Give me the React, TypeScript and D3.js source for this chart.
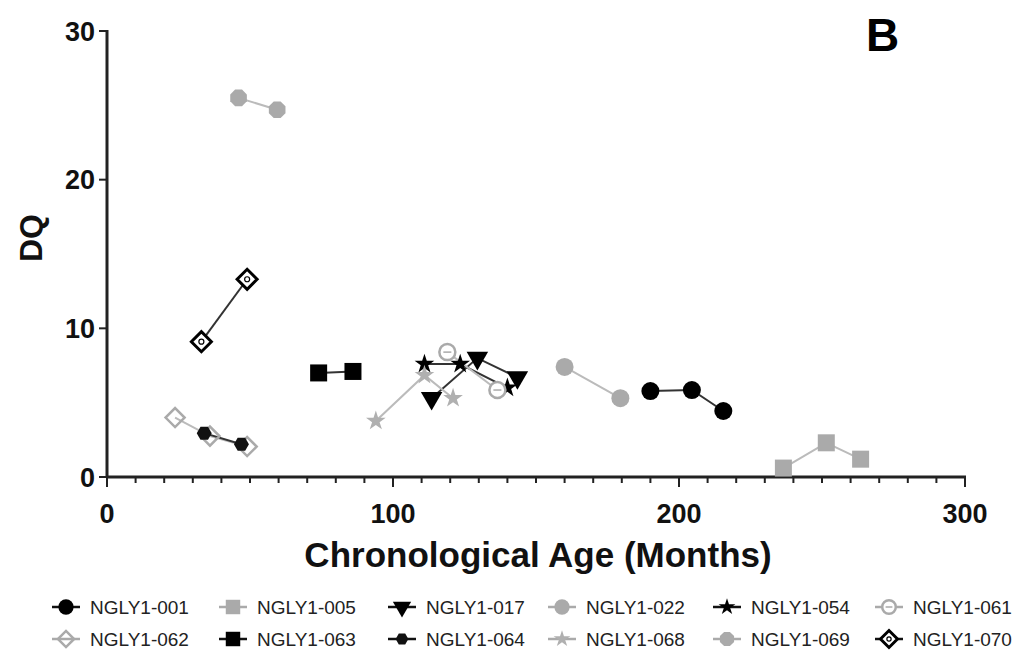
import React from "react";
import * as d3 from "d3";

const patients = ["NGLY1-001","NGLY1-005","NGLY1-017","NGLY1-022","NGLY1-054","NGLY1-061","NGLY1-062","NGLY1-063","NGLY1-064","NGLY1-068","NGLY1-069","NGLY1-070"];
const ages: number[][] = [
  [190, 204.5, 215.5],
  [236.5, 251.5, 263.5],
  [113.5, 129.5, 143.5],
  [160, 179.5],
  [111, 123.5, 140],
  [119, 136.5],
  [23.8, 36, 49],
  [74, 86],
  [34, 47],
  [94, 111, 121],
  [46, 59.5],
  [33, 49],
];
const dqs: number[][] = [
  [5.78, 5.85, 4.44],
  [0.6, 2.3, 1.2],
  [5.3, 8.0, 6.7],
  [7.4, 5.3],
  [7.6, 7.6, 6.0],
  [8.4, 5.85],
  [4.0, 2.75, 2.05],
  [7.0, 7.1],
  [2.95, 2.2],
  [3.77, 6.85, 5.3],
  [25.5, 24.7],
  [9.1, 13.3],
];
const shapes = ["circle","square","triDown","circle","star","openCircle","openDiamond","square","hexagon","star","octagon","diamondBlack"];
const colors = ["#000","#aaa","#000","#aaa","#000","#aaa","#aaa","#000","#111","#b0b0b0","#aaa","#000"];
const xTicks = [0, 100, 200, 300];
const yTicks = [0, 10, 20, 30];

function polygon(n: number, r: number, rot: number) {
  const pts = d3.range(n).map(i => {
    const a = rot + (i * 2 * Math.PI) / n;
    return [r * Math.cos(a), r * Math.sin(a)];
  });
  return "M" + pts.map(p => p.join(",")).join("L") + "Z";
}

function Marker({ shape, color, x, y, s = 1 }: { shape: string; color: string; x: number; y: number; s?: number }) {
  const t = `translate(${x},${y})`;
  switch (shape) {
    case "circle":
      return <circle cx={x} cy={y} r={9 * s} fill={color} />;
    case "openCircle":
      return <g><circle cx={x} cy={y} r={8 * s} fill="#fff" stroke={color} strokeWidth={2.5} /><line x1={x - 4 * s} x2={x + 4 * s} y1={y} y2={y} stroke={color} strokeWidth={1.5} /></g>;
    case "square":
      return <rect x={x - 8.5 * s} y={y - 8.5 * s} width={17 * s} height={17 * s} fill={color} />;
    case "triDown":
      return <path transform={`${t} rotate(180)`} d={d3.symbol().type(d3.symbolTriangle).size(200 * s * s)()!} fill={color} />;
    case "star":
      return <path transform={t} d={d3.symbol().type(d3.symbolStar).size(120 * s * s)()!} fill={color} />;
    case "openDiamond":
      return <path transform={t} d={polygon(4, 9.5 * s, 0)} fill="none" stroke={color} strokeWidth={2.5} />;
    case "hexagon":
      return <path transform={t} d={polygon(6, 7.5 * s, 0)} fill={color} />;
    case "octagon":
      return <path transform={t} d={polygon(8, 9 * s, Math.PI / 8)} fill={color} />;
    case "diamondBlack":
      return <g><path transform={t} d={polygon(4, 10 * s, 0)} fill="#fff" stroke={color} strokeWidth={3} /><circle cx={x} cy={y} r={2.5 * s} fill="none" stroke={color} strokeWidth={1.2} /></g>;
  }
  return null;
}

export default function App() {
  const W = 1024, H = 651;
  const x = d3.scaleLinear().domain([0, 300]).range([107, 965]);
  const y = d3.scaleLinear().domain([0, 30]).range([477, 31]);
  const line = d3.line<[number, number]>().x(d => x(d[0])).y(d => y(d[1]));
  const minor = d3.range(0, 301, 10);
  const legendX = [66, 233, 402, 562, 727, 889];
  const legendY = [607, 639];
  const font = "'Liberation Sans', Arial, Helvetica, sans-serif";
  const dark = (c: string) => c === "#000" || c === "#111";
  return (
    <svg width={W} height={H} style={{ position: "absolute", left: 0, top: 0, background: "#fff" }} fontFamily={font}>
      <line x1={x(0)} x2={x(0)} y1={y(30) - 1} y2={y(0) + 1} stroke="#222" strokeWidth={3} />
      <line x1={x(0) - 1} x2={x(300) + 1} y1={y(0)} y2={y(0)} stroke="#222" strokeWidth={3} />
      {yTicks.map(v => (
        <g key={"y" + v}>
          <line x1={x(0) - 8} x2={x(0)} y1={y(v)} y2={y(v)} stroke="#222" strokeWidth={2} />
          <text x={x(0) - 12} y={y(v)} dy="0.36em" textAnchor="end" fontSize={27} fontWeight="bold" fill="#111">{v}</text>
        </g>
      ))}
      {minor.map(v => (
        <line key={"m" + v} x1={x(v)} x2={x(v)} y1={y(0)} y2={y(0) + (v % 100 === 0 ? 10 : 6)} stroke="#222" strokeWidth={2} />
      ))}
      {xTicks.map(v => (
        <text key={"x" + v} x={x(v)} y={523} textAnchor="middle" fontSize={27} fontWeight="bold" fill="#111">{v}</text>
      ))}
      <text x={538} y={567} textAnchor="middle" fontSize={35} fontWeight="bold" fill="#111">Chronological Age (Months)</text>
      <text transform="translate(42,238) rotate(-90)" textAnchor="middle" fontSize={32} fontWeight="bold" fill="#111">DQ</text>
      <text x={866} y={51} fontSize={46} fontWeight="bold" fill="#000">B</text>
      {patients.map((p, i) => (
        <path key={"l" + p} d={line(ages[i].map((a, j) => [a, dqs[i][j]] as [number, number]))!} fill="none" stroke={dark(colors[i]) ? "#333" : "#bbb"} strokeWidth={2} />
      ))}
      {patients.map((p, i) => (
        <g key={"p" + p}>
          {ages[i].map((a, j) => (
            <Marker key={j} shape={shapes[i]} color={colors[i]} x={x(a)} y={y(dqs[i][j])} />
          ))}
        </g>
      ))}
      {patients.map((p, i) => {
        const col = i % 6, row = Math.floor(i / 6);
        const lx = legendX[col], ly = legendY[row];
        return (
          <g key={"lg" + p}>
            <line x1={lx - 14} x2={lx + 14} y1={ly} y2={ly} stroke={dark(colors[i]) ? "#111" : "#aaa"} strokeWidth={2.5} />
            <Marker shape={shapes[i]} color={colors[i]} x={lx} y={ly} s={0.85} />
            <text x={lx + 24} y={ly} dy="0.36em" fontSize={19} fill="#222">{p}</text>
          </g>
        );
      })}
    </svg>
  );
}
